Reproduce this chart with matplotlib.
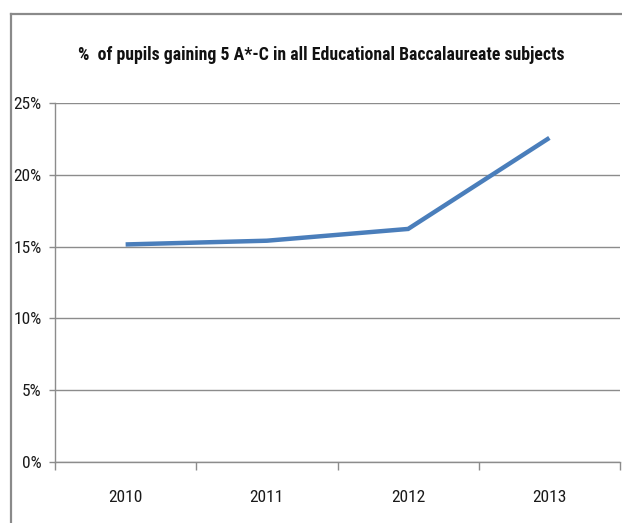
import numpy as np
import matplotlib
matplotlib.use("Agg")
import matplotlib.pyplot as plt
from matplotlib.ticker import PercentFormatter, FixedLocator, NullFormatter
from matplotlib.lines import Line2D

years = ["2010", "2011", "2012", "2013"]
pct_pupils = [0.1515, 0.1541, 0.1623, 0.2257]
title = "%  of pupils gaining 5 A*-C in all Educational Baccalaureate subjects"

FONT = ["Roboto Condensed", "Liberation Sans"]
GRID = "#8c8c8c"
LINE = "#4a7ebb"

fig = plt.figure(figsize=(6.22, 5.23), dpi=100)
ax = fig.add_axes([55 / 622, 61 / 523, 565 / 622, 359 / 523])

x = np.arange(len(years))
ax.plot(x, pct_pupils, color=LINE, lw=3.2, solid_capstyle="butt", solid_joinstyle="miter")

ax.set_xlim(-0.5, len(years) - 0.5)
ax.set_ylim(0, 0.25)
ax.set_yticks(np.arange(0, 0.251, 0.05))
ax.yaxis.set_major_formatter(PercentFormatter(1.0, decimals=0))
ax.grid(axis="y", color=GRID, lw=1)
ax.set_axisbelow(True)

# category labels centred, tick marks between categories
ax.xaxis.set_major_locator(FixedLocator(np.arange(-0.5, len(years), 1.0)))
ax.xaxis.set_major_formatter(NullFormatter())
ax.xaxis.set_minor_locator(FixedLocator(x))
ax.set_xticklabels(years, minor=True)
ax.tick_params(axis="x", which="major", length=6, width=1, color=GRID)
ax.tick_params(axis="x", which="minor", length=0, pad=20.5)
ax.tick_params(axis="y", length=4, width=1, color=GRID, pad=5.5)

for lab in ax.get_xticklabels(minor=True) + ax.get_yticklabels():
    lab.set_family(FONT)
    lab.set_fontsize(12.5)
    lab.set_color("#1a1a1a")

for s in ["top", "right"]:
    ax.spines[s].set_visible(False)
for s in ["left", "bottom"]:
    ax.spines[s].set_color(GRID)
    ax.spines[s].set_linewidth(1)

fig.text(321 / 622, 1 - 55 / 523, title, ha="center", va="center",
         family=FONT, fontsize=12.8, fontweight="bold", color="#111111")

# chart area border (only left and top edges fall inside the image)
fx = 11 / 622
fy = 1 - 14 / 523
fig.add_artist(Line2D([fx, fx], [0, fy], color="#8a8a8a", lw=1.6, transform=fig.transFigure))
fig.add_artist(Line2D([fx, 1], [fy, fy], color="#8a8a8a", lw=1.6, transform=fig.transFigure))

fig.savefig("out.png", dpi=100)
